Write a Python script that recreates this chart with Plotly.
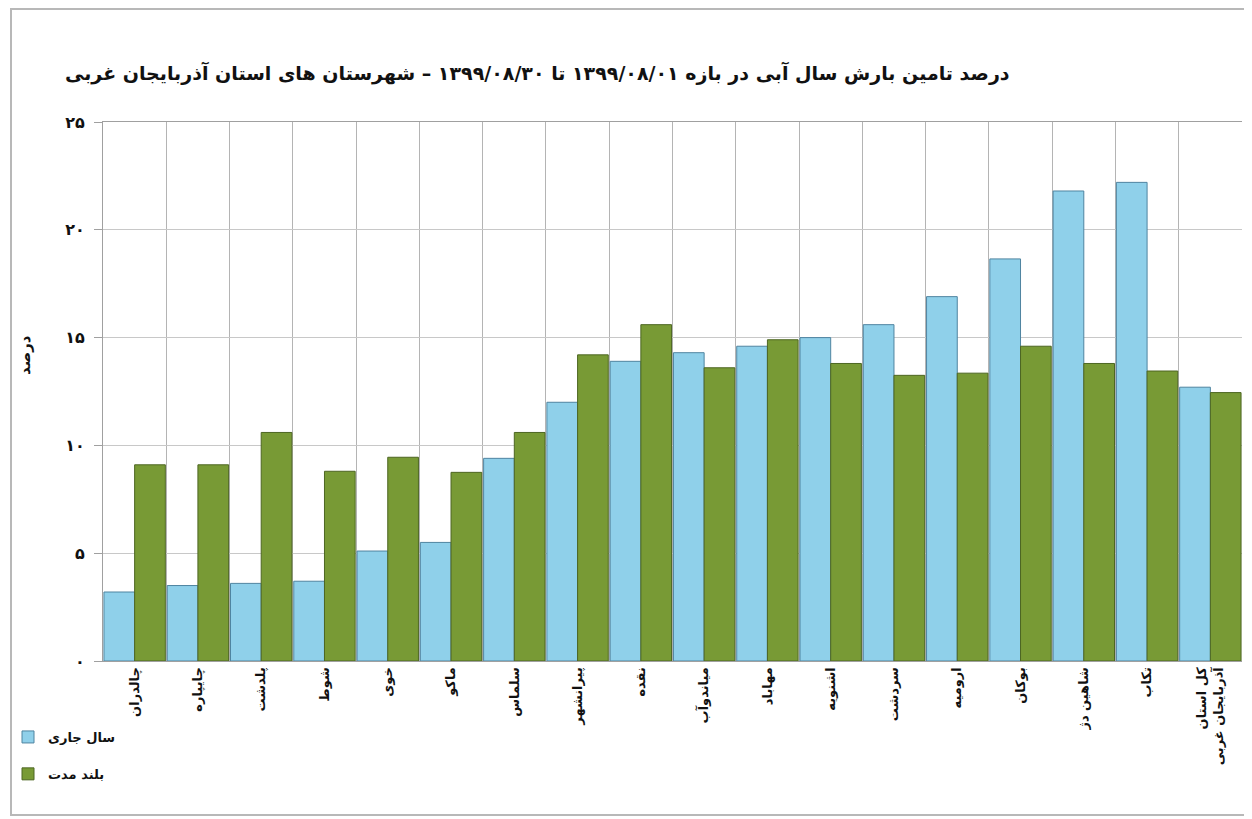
import plotly.graph_objects as go

categories = ["چالدران", "چایپاره", "پلدشت", "شوط", "خوی", "ماکو", "سلماس", "پیرانشهر", "نقده",
              "میاندوآب", "مهاباد", "اشنویه", "سردشت", "ارومیه", "بوکان", "شاهین دژ", "تکاب",
              "کل استان<br>آذربایجان غربی"]
current_year = [3.2, 3.5, 3.6, 3.7, 5.1, 5.5, 9.4, 12.0, 13.9, 14.3, 14.6, 15.0, 15.6, 16.9, 18.65, 21.8, 22.2, 12.7]
long_term = [9.1, 9.1, 10.6, 8.8, 9.45, 8.75, 10.6, 14.2, 15.6, 13.6, 14.9, 13.8, 13.25, 13.35, 14.6, 13.8, 13.45, 12.45]
series_names = ["سال جاری", "بلند مدت"]
y_tickvals = [0, 5, 10, 15, 20, 25]
y_ticktext = ["۰", "۵", "۱۰", "۱۵", "۲۰", "۲۵"]
title_text = "درصد تامین بارش سال آبی در بازه ۱۳۹۹/۰۸/۰۱ تا ۱۳۹۹/۰۸/۳۰ – شهرستان های استان آذربایجان غربی"
y_title = "درصد"

FONT = "DejaVu Sans"
W, H = 1244, 811          # page body has an 8px offset
L, T, R, B = 95, 114, 10, 158
PW, PH = W - L - R, H - T - B

def px(xf):   # figure pixel -> paper x
    return (xf - L) / PW

def py(yf):   # figure pixel -> paper y
    return (H - B - yf) / PH

fig = go.Figure()
fig.add_trace(go.Bar(x=categories, y=current_year, name=series_names[0], legendgroup="a",
                     marker=dict(color="#8fd0ea", line=dict(color="#4f84a0", width=1))))
fig.add_trace(go.Bar(x=categories, y=long_term, name=series_names[1], legendgroup="b",
                     marker=dict(color="#789a35", line=dict(color="#4d6622", width=1))))

fig.update_layout(
    width=W, height=H,
    margin=dict(l=L, r=R, t=T, b=B, autoexpand=False),
    paper_bgcolor="white", plot_bgcolor="white",
    barmode="group", bargap=0.03, bargroupgap=0.0,
    font=dict(family=FONT, color="#000000"),
    title=dict(text="\u202B" + title_text + "\u202C", xref="container", yref="container",
               x=57 / W, xanchor="left", y=1 - 65 / H, yanchor="middle",
               font=dict(family=FONT, size=19, color="#111111", weight="bold")),
    legend=dict(x=px(0), y=py(714), xanchor="left", yanchor="top",
                font=dict(family=FONT, size=13, color="#111111", weight="bold"),
                bgcolor="rgba(0,0,0,0)", tracegroupgap=17, itemwidth=30),
    showlegend=True,
)

fig.update_xaxes(
    type="category", tickson="boundaries", showgrid=True, gridcolor="#b4b4b4", gridwidth=1,
    showline=True, linecolor="#a0a0a0", linewidth=1, mirror=True,
    ticks="", tickangle=-90,
    tickfont=dict(family=FONT, size=13, color="#111111", weight="bold"),
)
fig.update_yaxes(
    range=[0, 25], tickvals=y_tickvals, ticktext=y_ticktext,
    showgrid=True, gridcolor="#c8c8c8", gridwidth=1,
    showline=True, linecolor="#a0a0a0", linewidth=1,
    ticks="outside", ticklen=8, tickcolor="#a0a0a0", ticklabelstandoff=6,
    tickfont=dict(family=FONT, size=16, color="#111111", weight="bold"),
    zeroline=False,
)

fig.add_annotation(text=y_title, xref="paper", yref="paper", x=px(17), y=py(347),
                   textangle=-90, showarrow=False, xanchor="center", yanchor="middle",
                   font=dict(family=FONT, size=15, color="#111111", weight="bold"))

fig.add_shape(type="rect", xref="paper", yref="paper",
              x0=px(3), x1=px(1240), y0=py(807), y1=py(1),
              line=dict(color="#b8b8b8", width=2), fillcolor="rgba(0,0,0,0)", layer="below")

fig.write_html("out.html")
